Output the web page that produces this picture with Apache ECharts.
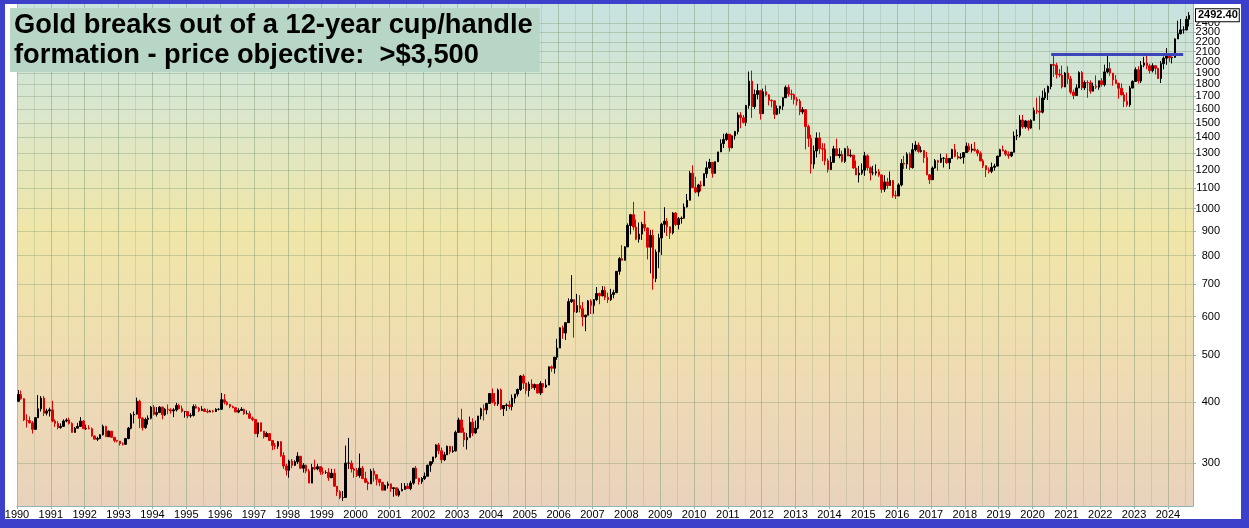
<!DOCTYPE html>
<html>
<head>
<meta charset="utf-8">
<script src="https://cdn.jsdelivr.net/npm/echarts@6/dist/echarts.min.js"></script>
<style>
html,body{margin:0;padding:0;background:#fff;}
#wrap{position:relative;width:1249px;height:528px;overflow:hidden;}
#chart{position:absolute;left:0;top:0;width:1249px;height:528px;}
.fr{position:absolute;background:#3b3fc9;pointer-events:none;}
</style>
</head>
<body>
<div id="wrap">
<div id="chart"></div>
<div class="fr" style="left:0;top:0;width:1249px;height:4px;"></div>
<div class="fr" style="left:0;top:0;width:5px;height:528px;"></div>
<div class="fr" style="left:1241px;top:0;width:8px;height:528px;"></div>
<div class="fr" style="left:0;top:519px;width:1249px;height:9px;"></div>
</div>
<script>
// ---- DATA (monthly bars, Jan 1990 .. Aug 2024) ----
const startYear = 1990;
const firstOpen = 402;
const closes = [
415,407,368,367,363,352,372,388,408,380,384,386,
366,362,355,357,366,368,362,347,354,357,366,353,
354,353,341,336,337,343,357,340,349,339,334,333,
329,328,337,354,377,378,402,371,355,369,371,391,
378,381,391,377,387,386,384,386,394,388,383,383,
375,376,392,389,385,387,383,382,384,383,387,387,
405,400,396,392,390,382,385,387,379,379,371,369,
345,363,349,340,345,334,326,325,332,311,296,290,
303,297,302,310,293,297,289,273,294,292,295,288,
287,287,280,286,269,262,255,255,300,300,292,290,
283,293,279,274,272,289,284,278,274,264,270,272,
266,267,258,263,265,269,266,273,293,279,275,279,
282,297,302,309,327,318,305,312,325,317,318,347,
368,347,335,339,364,346,354,375,388,386,398,417,
400,397,424,388,394,395,392,408,416,425,453,438,
423,436,429,435,418,437,430,434,473,470,495,517,
569,555,583,644,650,613,632,623,599,604,646,632,
650,669,662,679,657,650,666,672,743,789,783,834,
923,971,916,865,886,928,912,833,880,718,814,870,
928,942,917,891,979,927,953,955,1007,1040,1182,1104,
1081,1118,1113,1179,1212,1244,1181,1248,1307,1359,1386,1421,
1333,1410,1439,1556,1536,1503,1628,1826,1620,1715,1746,1566,
1737,1711,1668,1664,1561,1604,1622,1688,1773,1719,1713,1675,
1662,1579,1596,1473,1393,1234,1313,1396,1327,1324,1253,1202,
1244,1326,1284,1291,1250,1327,1282,1287,1211,1172,1182,1199,
1283,1213,1183,1183,1190,1172,1095,1134,1115,1142,1064,1061,
1118,1238,1234,1293,1214,1321,1350,1309,1316,1273,1173,1146,
1211,1254,1245,1268,1268,1242,1267,1322,1280,1270,1274,1303,
1343,1318,1325,1316,1299,1253,1224,1201,1192,1215,1222,1281,
1321,1313,1293,1283,1305,1409,1414,1520,1472,1513,1463,1517,
1589,1585,1577,1687,1730,1781,1975,1968,1886,1879,1777,1898,
1847,1734,1707,1769,1903,1770,1814,1813,1742,1783,1775,1829,
1796,1908,1937,1897,1837,1807,1766,1711,1661,1633,1768,1824,
1928,1827,1969,1990,1963,1919,1965,1940,1849,1984,2036,2063,
2039,2044,2230,2286,2327,2327,2447,2492.4
];
const highs = [
424,423,408,378,374,366,373,414,412,412,388,390,
403,369,366,362,369,371,372,364,356,363,373,368,
360,359,355,342,340,344,360,358,350,349,339,335,
332,331,338,356,380,383,409,405,373,372,376,393,
395,391,393,392,389,396,389,389,399,397,394,384,
380,380,396,396,391,393,389,388,386,386,389,389,
418,416,402,397,394,391,389,391,388,385,384,374,
369,363,358,347,348,346,334,330,333,333,316,299,
305,306,304,316,310,300,298,292,299,305,299,296,
294,290,293,292,292,268,264,263,326,338,304,294,
293,314,296,288,276,292,293,281,278,274,271,275,
271,268,267,266,273,273,273,276,293,296,280,281,
287,298,303,309,328,330,323,316,326,322,325,350,
372,388,355,346,374,371,367,375,390,396,399,417,
427,418,427,427,394,398,403,415,416,427,455,457,
430,441,446,437,432,442,431,446,474,476,496,540,
570,575,583,654,730,632,668,664,643,605,649,651,
652,690,672,693,692,672,684,681,744,795,841,837,
932,975,1032,950,936,939,988,914,903,905,824,888,
935,1006,956,913,983,983,960,963,1024,1071,1195,1227,
1162,1124,1139,1180,1249,1265,1216,1248,1307,1387,1424,1431,
1388,1412,1444,1575,1577,1556,1632,1911,1920,1755,1803,1753,
1763,1790,1718,1676,1665,1628,1625,1692,1789,1796,1754,1723,
1694,1679,1616,1598,1487,1417,1347,1433,1434,1362,1361,1267,
1280,1345,1392,1330,1315,1332,1345,1322,1287,1255,1223,1238,
1307,1292,1220,1224,1232,1205,1175,1170,1156,1191,1143,1088,
1127,1263,1283,1305,1304,1362,1375,1367,1341,1318,1307,1177,
1220,1264,1259,1296,1275,1296,1269,1326,1357,1306,1299,1305,
1366,1362,1356,1369,1326,1310,1263,1222,1214,1243,1236,1284,
1326,1347,1321,1310,1306,1439,1453,1555,1557,1518,1516,1525,
1611,1689,1704,1747,1765,1789,1981,2075,1992,1933,1965,1906,
1959,1872,1755,1798,1913,1916,1832,1834,1834,1813,1877,1831,
1853,1974,2070,1998,1870,1879,1814,1807,1735,1730,1786,1833,
1949,1959,2009,2049,2079,1983,1987,1949,1947,2009,2052,2135,
2066,2051,2236,2431,2450,2368,2484,2531
];
const lows = [
401,405,366,355,362,345,351,372,383,375,376,374,
364,356,352,353,356,364,360,347,347,356,356,353,
351,352,340,336,333,336,342,340,340,339,331,331,
326,326,327,336,352,362,378,354,350,353,360,369,
376,374,381,369,375,378,379,373,383,387,381,372,
371,372,374,389,382,384,383,380,382,381,382,385,
388,396,394,389,389,382,380,385,377,378,370,366,
344,339,348,337,342,334,319,320,321,309,292,283,
280,293,296,299,292,287,286,273,273,290,290,284,
284,285,276,280,269,257,253,251,255,292,287,280,
281,280,278,273,264,273,275,270,269,264,264,266,
262,256,257,256,263,266,266,264,271,278,271,272,
277,282,288,299,307,313,300,303,312,313,315,317,
347,347,324,320,346,341,345,352,369,367,378,397,
398,393,393,386,375,384,387,385,398,411,422,426,
416,411,426,424,417,414,418,428,434,462,458,489,
527,540,537,583,640,543,610,612,573,560,605,607,
608,646,636,660,649,640,646,654,670,731,783,782,
846,885,902,861,851,862,898,786,736,681,706,754,
803,892,878,866,885,921,906,931,954,1005,1039,1101,
1075,1059,1085,1116,1156,1206,1157,1179,1245,1314,1331,1377,
1309,1329,1385,1420,1462,1495,1478,1603,1535,1602,1675,1523,
1563,1700,1628,1613,1527,1555,1565,1592,1690,1697,1672,1636,
1627,1555,1562,1322,1338,1180,1207,1273,1293,1251,1227,1185,
1202,1240,1282,1268,1243,1240,1283,1273,1207,1183,1131,1172,
1167,1197,1142,1170,1169,1162,1077,1081,1098,1113,1052,1046,
1062,1110,1206,1207,1200,1207,1310,1302,1303,1241,1171,1123,
1146,1208,1195,1240,1214,1236,1205,1266,1274,1261,1263,1236,
1302,1307,1303,1309,1281,1250,1211,1160,1180,1182,1196,1221,
1276,1311,1281,1266,1275,1311,1382,1400,1459,1459,1446,1458,
1517,1563,1451,1568,1671,1670,1757,1863,1849,1860,1764,1775,
1802,1717,1677,1723,1766,1750,1751,1688,1721,1746,1759,1753,
1780,1781,1895,1872,1787,1805,1681,1709,1615,1618,1617,1765,
1823,1805,1810,1950,1932,1893,1903,1884,1847,1810,1931,1973,
2001,1985,2039,2228,2277,2286,2320,2364
];
const priceTicks = [300,400,500,600,700,800,900,1000,1100,1200,1300,1400,1500,1600,1700,1800,1900,2000,2100,2200,2300,2400];
const topTick = [2400];
const handleLevel = 2078;            // horizontal resistance line
const handleFrom = 2020.55, handleTo = 2024.45;
const lastPrice = 2492.40;
const titleText = 'Gold breaks out of a 12-year cup/handle\nformation - price objective:  >$3,500';

// ---- build series data ----
const candles = closes.map((c, i) => {
  const x = startYear + Math.floor(i / 12) + ((i % 12) + 0.5) / 12;
  const o = i === 0 ? firstOpen : closes[i - 1];
  return [x, o, c, lows[i], highs[i]];
});

const chart = echarts.init(document.getElementById('chart'), null, {renderer: 'canvas'});
const font = '"Liberation Sans", Arial, sans-serif';
const yLabel = {
  fontFamily: font, fontSize: 11, color: '#000',
  align: 'right', margin: 27,
  formatter: v => String(Math.round(v))
};
chart.setOption({
  animation: false,
  backgroundColor: '#ffffff',
  title: {
    text: titleText,
    left: 10, top: 8,
    backgroundColor: '#b7d6c6',
    padding: [2, 7, 2, 4],
    textStyle: {fontFamily: font, fontSize: 27.3, fontWeight: 'bold', color: '#000', lineHeight: 30}
  },
  grid: {
    left: 17, right: 56, top: 4, bottom: 22,
    show: true, borderWidth: 0,
    backgroundColor: {
      type: 'linear', x: 0, y: 0, x2: 0, y2: 1,
      colorStops: [
        {offset: 0, color: '#c6e2e0'},
        {offset: 0.22, color: '#dbe7cc'},
        {offset: 0.45, color: '#f0e6a8'},
        {offset: 0.72, color: '#efdcb2'},
        {offset: 1, color: '#e9d2bd'}
      ]
    }
  },
  xAxis: {
    type: 'value',
    min: 1990, max: 2024.74, interval: 1,
    axisLine: {show: true, lineStyle: {color: '#8fb4b4', width: 1}},
    axisTick: {show: true, length: 3, lineStyle: {color: '#8fb4b4'}},
    axisLabel: {
      fontFamily: font, fontSize: 11, color: '#000', margin: 3,
      showMaxLabel: false,
      formatter: v => String(Math.round(v))
    },
    splitLine: {show: true, lineStyle: {color: 'rgba(120,150,110,0.45)', width: 1}},
    minorTick: {show: false, splitNumber: 2},
    minorSplitLine: {show: true, lineStyle: {color: 'rgba(120,150,110,0.22)', width: 1}}
  },
  yAxis: [{
    type: 'log', logBase: 10,
    position: 'right',
    min: 245, max: 2630,
    axisLine: {show: true, lineStyle: {color: '#8fb4b4', width: 1}},
    axisTick: {show: true, length: 3, inside: false, customValues: priceTicks, lineStyle: {color: '#8fb4b4'}},
    axisLabel: Object.assign({customValues: priceTicks, showMaxLabel: false}, yLabel),
    splitLine: {show: true, lineStyle: {color: 'rgba(120,150,110,0.35)', width: 1}}
  }, {
    type: 'log', logBase: 10,
    position: 'right',
    min: 245, max: 2630,
    axisLine: {show: false},
    axisTick: {show: false, customValues: topTick},
    axisLabel: Object.assign({customValues: topTick, showMaxLabel: true, showMinLabel: true}, yLabel),
    splitLine: {show: false}
  }],
  series: [{
    type: 'candlestick',
    data: candles,
    yAxisIndex: 0,
    barWidth: 2,
    clip: false,
    itemStyle: {color: '#000000', color0: '#e00000', borderColor: '#000000', borderColor0: '#e00000', borderWidth: 1},
    markLine: {
      silent: true,
      symbol: 'none',
      animation: false,
      data: [
        [
          {coord: [handleFrom, handleLevel], lineStyle: {color: '#3b44b8', width: 3, type: 'solid'}, label: {show: false}},
          {coord: [handleTo, handleLevel]}
        ],
        {
          yAxis: lastPrice,
          lineStyle: {color: 'rgba(0,0,0,0)', width: 1},
          label: {
            show: true, position: 'end', distance: 3,
            formatter: lastPrice.toFixed(2),
            fontFamily: font, fontSize: 11, fontWeight: 'bold', color: '#000',
            backgroundColor: '#fff', borderColor: '#000', borderWidth: 1,
            padding: [1, 1, 0, 2]
          }
        }
      ]
    }
  }]
});
</script>
</body>
</html>
